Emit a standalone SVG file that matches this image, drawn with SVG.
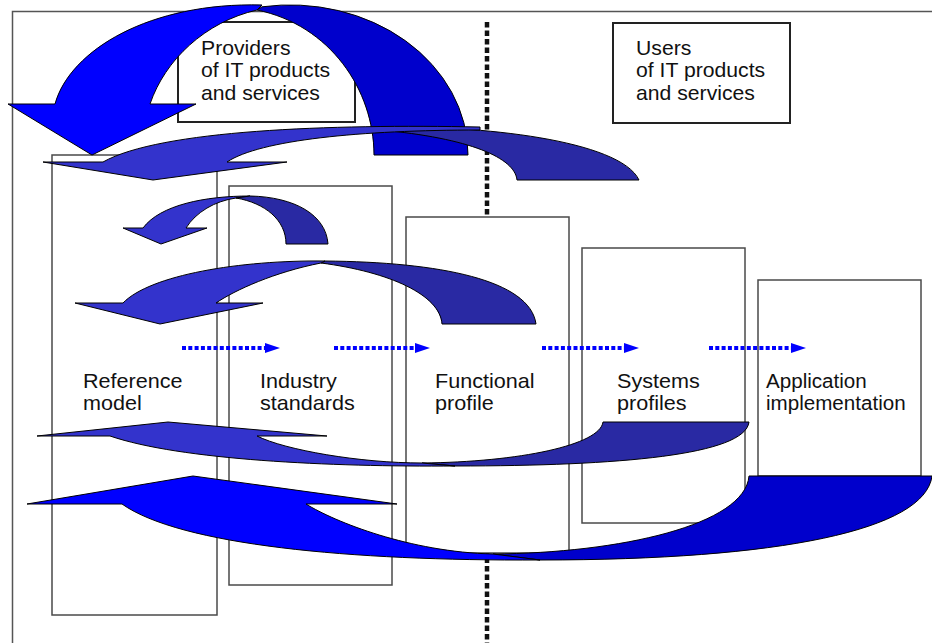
<svg xmlns="http://www.w3.org/2000/svg" width="932" height="643" viewBox="0 0 932 643">
  <style>
    .frame { fill: none; stroke: #555; stroke-width: 1.5; }
    .sep { fill: none; stroke: #111; stroke-width: 4.5; stroke-dasharray: 5.5 3; }
    .hdr { fill: #fff; stroke: #222; stroke-width: 2; }
    .box { fill: #fff; stroke: #4a4a4a; stroke-width: 1.5; }
    .lbl { font-family: "Liberation Sans", Arial, Helvetica, sans-serif; font-size: 20px; fill: #111; }
    .arw { stroke: #000; stroke-width: 1; stroke-linejoin: miter; }
    .blue { fill: #0000ff; }
    .blue-back { fill: #0000cc; }
    .mid { fill: #3333cc; }
    .mid-back { fill: #2929a3; }
    .flow { fill: none; stroke: #0000ff; stroke-width: 4; stroke-dasharray: 4 2.3; }
  </style>
  <defs>
    <marker id="head" markerUnits="userSpaceOnUse" markerWidth="15" markerHeight="11" refX="0" refY="5.5" orient="auto">
      <path d="M0,0.5 L15,5.5 L0,10.5 Z" fill="#0000ff"/>
    </marker>
  </defs>

  <rect width="932" height="643" fill="#fff"/>

  <!-- outer frame (open to the right and bottom) -->
  <path class="frame" d="M932,11.5 H12.5 V643"/>

  <!-- providers / users divider -->
  <line class="sep" x1="487" y1="22" x2="487" y2="643"/>

  <!-- nodes -->
  <g id="providers">
    <rect class="hdr" x="178" y="22" width="177" height="100"/>
    <g transform="translate(201,55) scale(1.06,1)">
      <text class="lbl"><tspan x="0" y="0">Providers</tspan><tspan x="0" y="22.5">of IT products</tspan><tspan x="0" y="45">and services</tspan></text>
    </g>
  </g>
  <g id="users">
    <rect class="hdr" x="613" y="23" width="177" height="100"/>
    <g transform="translate(636,55) scale(1.06,1)">
      <text class="lbl"><tspan x="0" y="0">Users</tspan><tspan x="0" y="22.5">of IT products</tspan><tspan x="0" y="45">and services</tspan></text>
    </g>
  </g>
  <g id="reference-model">
    <rect class="box" x="52" y="155" width="165" height="460"/>
    <g transform="translate(83,388) scale(1.08,1)">
      <text class="lbl"><tspan x="0" y="0">Reference</tspan><tspan x="0" y="22">model</tspan></text>
    </g>
  </g>
  <g id="industry-standards">
    <rect class="box" x="229" y="186" width="163" height="399"/>
    <g transform="translate(260,388) scale(1.08,1)">
      <text class="lbl"><tspan x="0" y="0">Industry</tspan><tspan x="0" y="22">standards</tspan></text>
    </g>
  </g>
  <g id="functional-profile">
    <rect class="box" x="406" y="217" width="163" height="336"/>
    <g transform="translate(435,388) scale(1.08,1)">
      <text class="lbl"><tspan x="0" y="0">Functional</tspan><tspan x="0" y="22">profile</tspan></text>
    </g>
  </g>
  <g id="systems-profiles">
    <rect class="box" x="582" y="248" width="163" height="275"/>
    <g transform="translate(617,388) scale(1.08,1)">
      <text class="lbl"><tspan x="0" y="0">Systems</tspan><tspan x="0" y="22">profiles</tspan></text>
    </g>
  </g>
  <g id="application-implementation">
    <rect class="box" x="758" y="280" width="163" height="196"/>
    <g transform="translate(766,388) scale(1.03,1)">
      <text class="lbl"><tspan x="0" y="0">Application</tspan><tspan x="0" y="22">implementation</tspan></text>
    </g>
  </g>

  <!-- connectors -->
  <g id="connectors">
    <!-- feedback from providers to the reference model -->
    <g id="loop-providers">
      <path class="arw blue-back" d="M374,155 L468,155 A178,150 0 0 0 262,6.8 L257,10 C330,25 374,90 374,155 Z"/>
      <path class="arw blue" d="M92,155 L196,104 L150,104 C165,60 205,22 257,10 L262,5 C150,2 70,50 55,104 L8,104 Z"/>
    </g>
    <!-- feedback from the functional profile -->
    <g id="loop-functional">
      <path class="arw mid-back" d="M517,180 L639,180 C620,140 480,125 380,127 L380,130 C470,138 515,158 517,180 Z"/>
      <path class="arw mid" d="M153,180 L287,162 L227,162 C260,140 360,130 480,130 L480,127 C330,124 160,130 103,162 L43,162 Z"/>
    </g>
    <!-- feedback from industry standards -->
    <g id="loop-standards">
      <path class="arw mid" d="M161,244 L207,228 L186,228 C196,212 215,201 236,198 L250,196 C205,196 160,205 143,228 L123,228 Z"/>
      <path class="arw mid-back" d="M286,244 L328,244 C326,215 295,197 250,196 L236,198 C265,203 286,220 286,244 Z"/>
    </g>
    <!-- feedback across standards into the reference model -->
    <g id="loop-standards-wide">
      <path class="arw mid-back" d="M442,324 L536,324 C530,280 440,262 325,261 L321,263 C390,272 440,295 442,324 Z"/>
      <path class="arw mid" d="M160,324 L263,303 L216,303 C235,290 275,272 321,263 L325,261 C240,260 150,275 123,303 L75,303 Z"/>
    </g>

    <!-- forward flow between stages -->
    <g id="flow">
      <line class="flow" x1="182" y1="348" x2="265" y2="348" marker-end="url(#head)"/>
      <line class="flow" x1="334" y1="348" x2="415" y2="348" marker-end="url(#head)"/>
      <line class="flow" x1="542" y1="348" x2="624" y2="348" marker-end="url(#head)"/>
      <line class="flow" x1="709" y1="348" x2="791" y2="348" marker-end="url(#head)"/>
    </g>

    <!-- feedback from systems profiles -->
    <g id="loop-systems">
      <path class="arw mid-back" d="M603,422 L749,422 C745,455 620,466 455,466 L422,463 C520,462 600,445 603,422 Z"/>
      <path class="arw mid" d="M168,422 L327,436 L257,436 C285,450 360,463 422,463 L455,466 C330,467 180,460 110,436 L37,436 Z"/>
    </g>
    <!-- feedback from the application implementation -->
    <g id="loop-application">
      <path class="arw blue-back" d="M749,476 L932,476 C925,530 780,560 540,560 L493,554 C620,553 745,525 749,476 Z"/>
      <path class="arw blue" d="M193,476 L397,504 L306,504 C335,522 410,552 493,554 L540,560 C350,561 180,545 122,504 L27,504 Z"/>
    </g>
  </g>
</svg>
